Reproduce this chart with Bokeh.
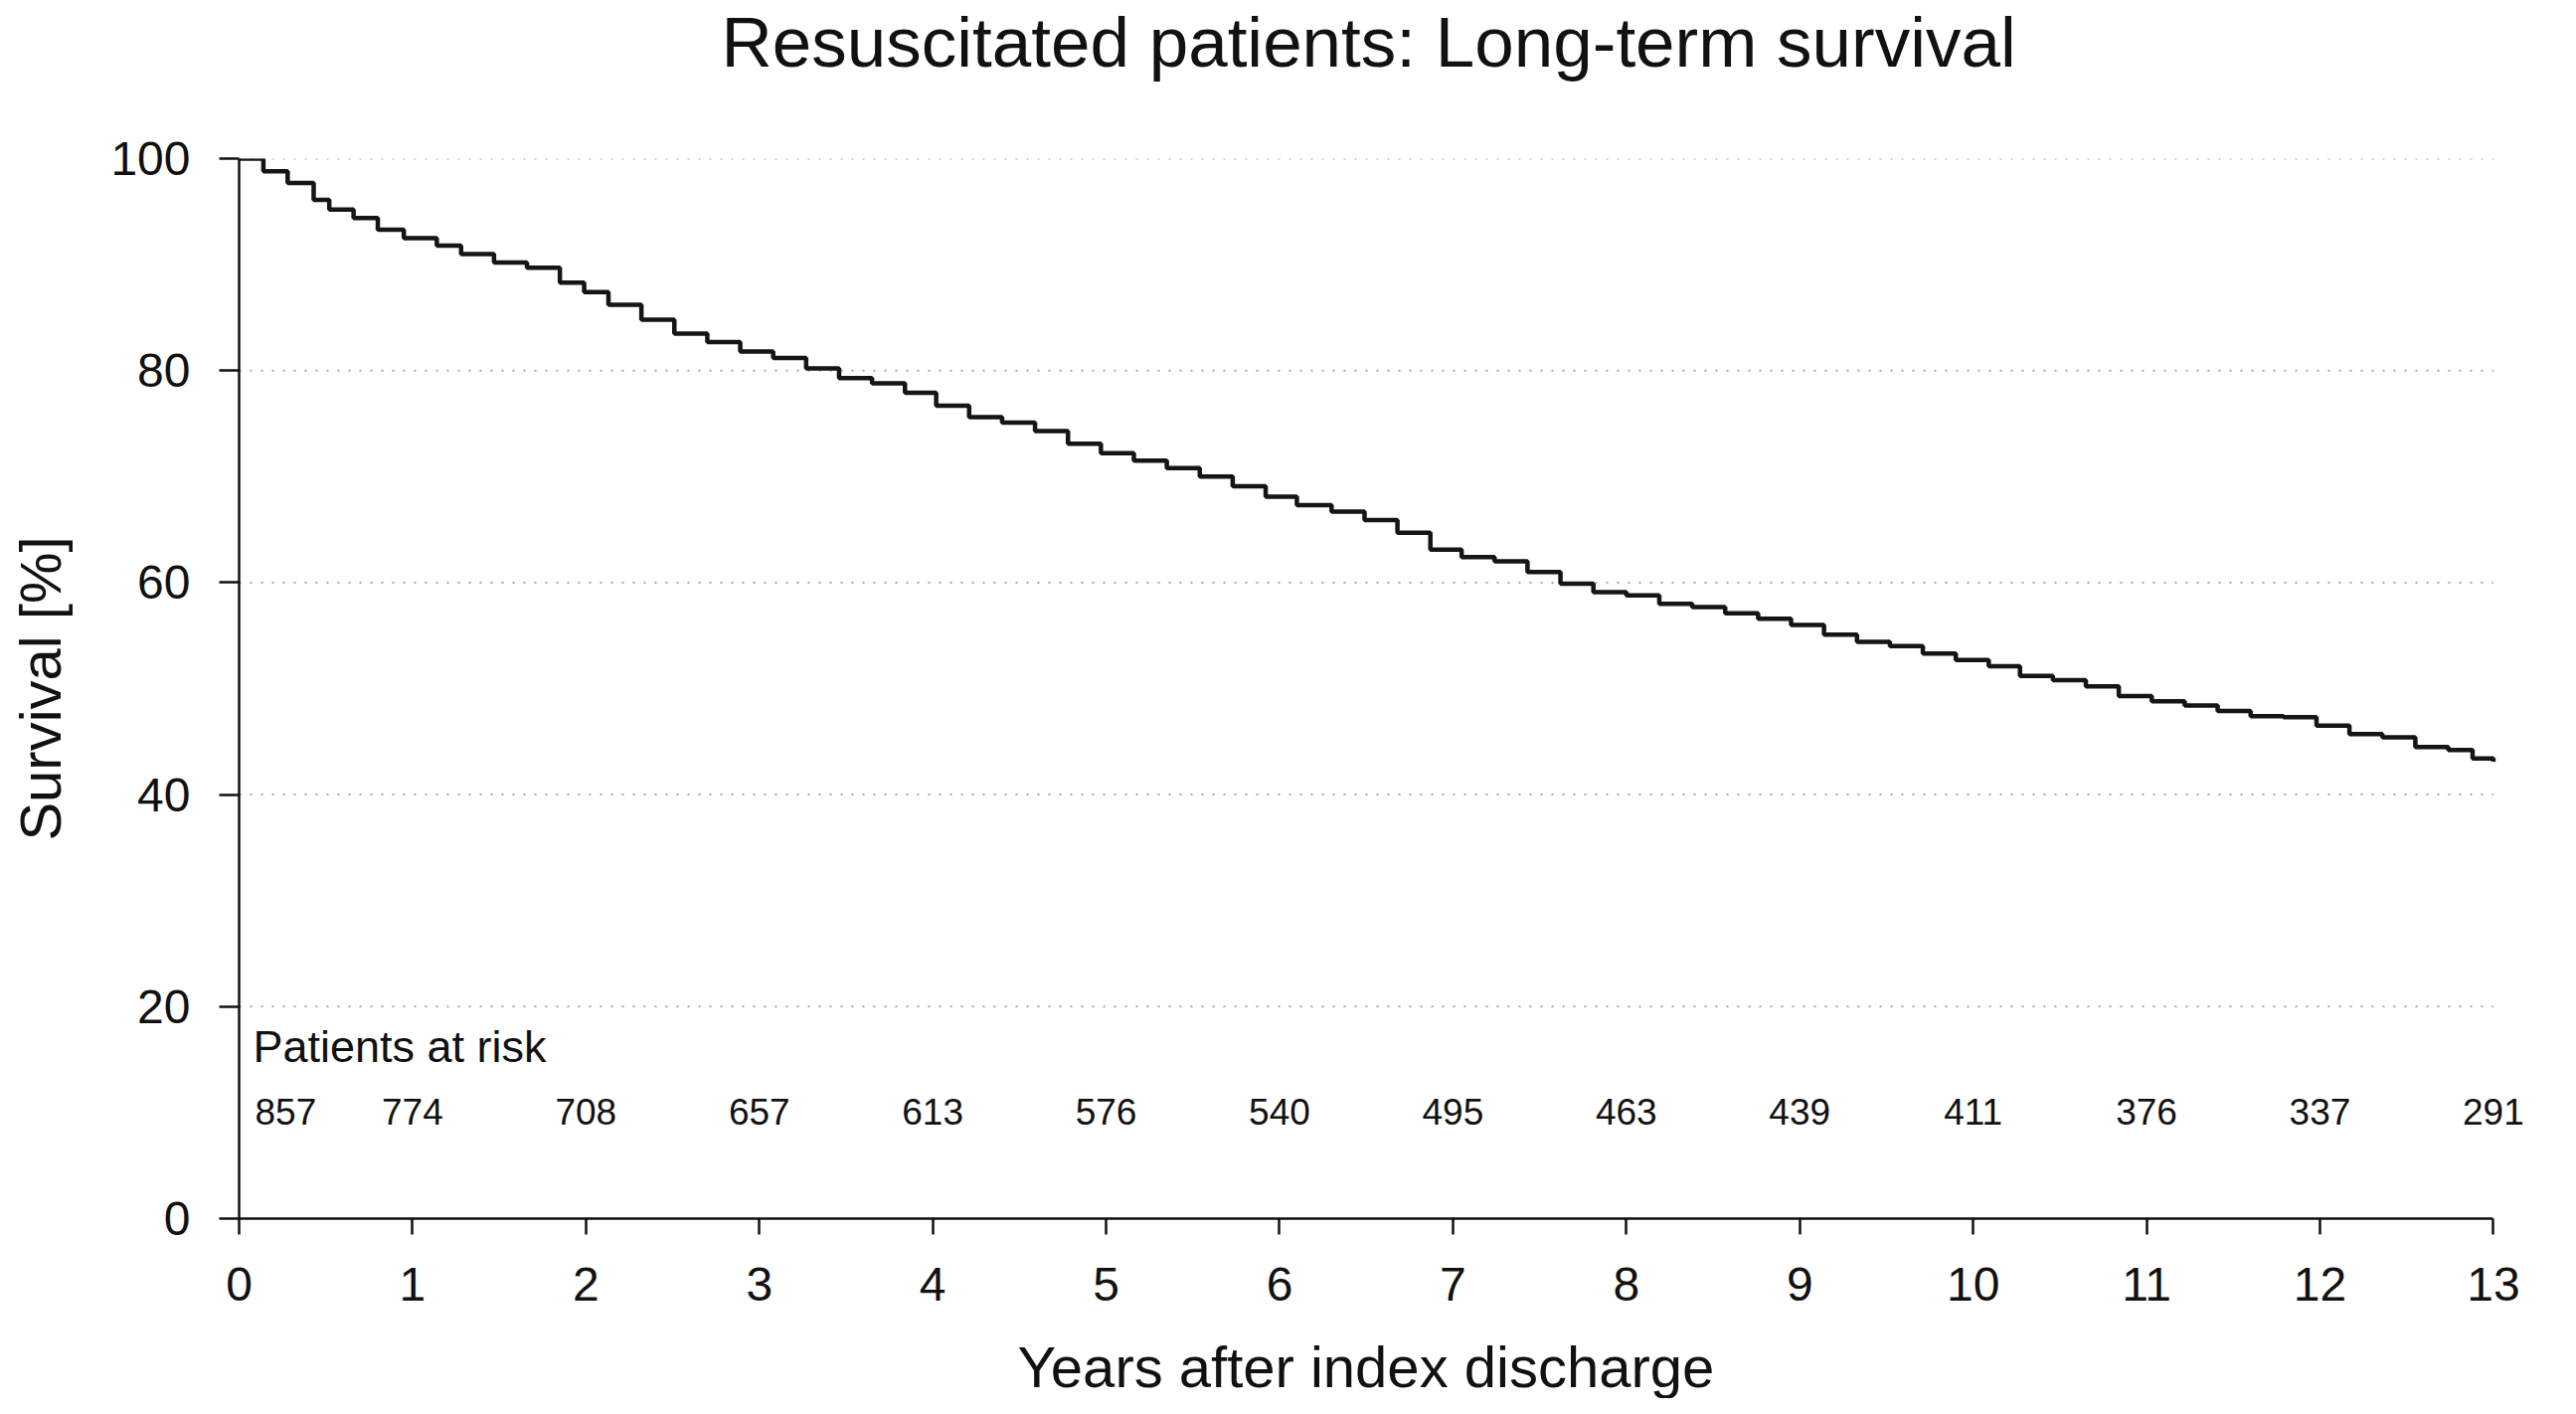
from bokeh.plotting import figure
from bokeh.models import ColumnDataSource, LabelSet, Label, FixedTicker, Range1d, Title
from bokeh.core.properties import value
from bokeh.embed import file_html
from bokeh.resources import INLINE

# survival curve (years, percent)
years = [0, 0.14, 0.28, 0.43, 0.52, 0.66, 0.80, 0.95, 1.14, 1.28, 1.47, 1.66,
         1.85, 1.99, 2.13, 2.32, 2.51, 2.70, 2.89, 3.08, 3.27, 3.46, 3.65,
         3.84, 4.02, 4.21, 4.40, 4.59, 4.78, 4.97, 5.16, 5.35, 5.54, 5.73,
         5.92, 6.10, 6.30, 6.49, 6.68, 6.87, 7.05, 7.24, 7.43, 7.62, 7.81,
         8.00, 8.19, 8.38, 8.57, 8.76, 8.95, 9.14, 9.33, 9.52, 9.71, 9.90,
         10.09, 10.27, 10.46, 10.65, 10.84, 11.03, 11.22, 11.41, 11.60,
         11.79, 11.98, 12.17, 12.36, 12.55, 12.74, 12.88, 13.0]
survival = [100, 98.8, 97.7, 96.1, 95.2, 94.4, 93.3, 92.5, 91.8, 91.0, 90.2,
            89.7, 88.3, 87.4, 86.2, 84.8, 83.5, 82.7, 81.8, 81.2, 80.2, 79.3,
            78.8, 77.9, 76.7, 75.6, 75.1, 74.3, 73.1, 72.2, 71.5, 70.8, 70.0,
            69.1, 68.1, 67.3, 66.7, 65.9, 64.7, 63.1, 62.4, 62.0, 61.0, 59.9,
            59.1, 58.8, 58.0, 57.7, 57.1, 56.6, 56.0, 55.1, 54.4, 54.0, 53.3,
            52.7, 52.1, 51.2, 50.8, 50.2, 49.3, 48.8, 48.4, 47.9, 47.4, 47.3,
            46.5, 45.7, 45.4, 44.5, 44.2, 43.4, 43.1]

# patients at risk
risk_years = [0, 1, 2, 3, 4, 5, 6, 7, 8, 9, 10, 11, 12, 13]
risk_counts = [857, 774, 708, 657, 613, 576, 540, 495, 463, 439, 411, 376, 337, 291]

y_ticks = [0, 20, 40, 60, 80, 100]
x_ticks = list(range(0, 14))

FONT = "Liberation Sans"
INK = "#111111"

p = figure(width=2575, height=1406, output_backend="svg", toolbar_location=None,
           title=None, x_range=Range1d(0, 13.25), y_range=Range1d(0, 100),
           min_border_left=240, min_border_right=24, min_border_top=140,
           min_border_bottom=100)
p.outline_line_color = None
p.background_fill_color = "white"

# blank spacer between plot and title, then the title itself
p.add_layout(Title(text=" ", text_font=FONT, text_font_size="40px", standoff=32), "above")
p.add_layout(Title(text="Resuscitated patients: Long-term survival", text_font=FONT,
                   text_font_size="71px", text_font_style="normal", text_color=INK,
                   align="left", offset=485, standoff=0), "above")

# dotted grid lines, only as far as year 13
grid_y = y_ticks[1:]
p.multi_line(xs=[[x_ticks[0], x_ticks[-1]] for _ in grid_y], ys=[[g, g] for g in grid_y],
             line_color="#a8a8a8", line_width=2, line_dash="2 9")

p.step(years, survival, mode="after", line_color="#151515", line_width=4.5)

# axes
p.xaxis.ticker = FixedTicker(ticks=x_ticks)
p.yaxis.ticker = FixedTicker(ticks=y_ticks)
p.xaxis.bounds = (x_ticks[0], x_ticks[-1])
p.yaxis.axis_label = "Survival [%]"
for ax in (p.xaxis[0], p.yaxis[0]):
    ax.axis_line_width = 2.5
    ax.axis_line_color = INK
    ax.major_tick_line_width = 2.5
    ax.major_tick_line_color = INK
    ax.major_tick_in = 0
    ax.minor_tick_line_color = None
    ax.major_label_text_font = FONT
    ax.major_label_text_font_size = "48px"
    ax.major_label_text_color = INK
    ax.axis_label_text_font = FONT
    ax.axis_label_text_font_size = "58px"
    ax.axis_label_text_font_style = "normal"
    ax.axis_label_text_color = INK
p.xaxis.major_tick_out = 16
p.yaxis.major_tick_out = 20
p.xaxis.major_label_standoff = 33
p.yaxis.major_label_standoff = 29
p.yaxis.axis_label_standoff = 35

# x axis title sits at the very bottom, below a small spacer
p.add_layout(Title(text=" ", text_font=FONT, text_font_size="20px", standoff=5), "below")
p.add_layout(Title(text="Years after index discharge", text_font=FONT,
                   text_font_size="58px", text_font_style="normal", text_color=INK,
                   align="left", offset=783, standoff=0), "below")

p.xgrid.grid_line_color = None
p.ygrid.grid_line_color = None

# patients at risk table
p.add_layout(Label(x=0.08, y=16.2, text="Patients at risk", text_font=FONT,
                   text_font_size="45px", text_color=INK,
                   text_baseline="alphabetic"))
first = ColumnDataSource(data=dict(x=risk_years[:1], y=[8.9], t=[str(risk_counts[0])]))
rest = ColumnDataSource(data=dict(x=risk_years[1:], y=[8.9] * (len(risk_years) - 1),
                                  t=[str(c) for c in risk_counts[1:]]))
p.add_layout(LabelSet(x="x", y="y", text="t", source=first, x_offset=16,
                      text_font=value(FONT), text_font_size=value("37px"),
                      text_color=INK, text_align="left", text_baseline="alphabetic"))
p.add_layout(LabelSet(x="x", y="y", text="t", source=rest,
                      text_font=value(FONT), text_font_size=value("37px"),
                      text_color=INK, text_align="center", text_baseline="alphabetic"))

open("out.html", "w").write(file_html(p, INLINE))
